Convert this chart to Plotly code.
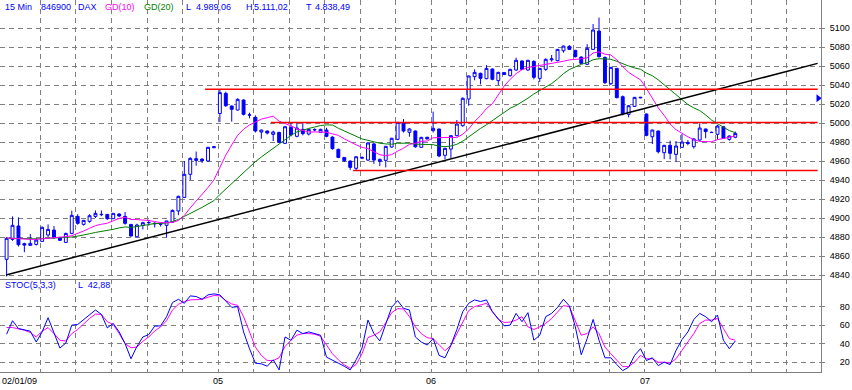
import plotly.graph_objects as go

# ---------------- data ----------------
bars = list(range(124))          # 15-minute bars, 36 per trading day
opens = [4856.5,4877.5,4891.6,4873,4871.2,4872.2,4875.4,4882.1,4887.3,4879.6,
         4874.3,4883.8,4901.7,4893.3,4896.5,4901.7,4903.5,4903.8,4899.3,4904.2,
         4901.7,4893.3,4880.3,4892.3,4895,4894.5,4894.3,4892.3,4895.8,4907.4,
         4921.7,4946,4960.5,4962,4960,4974,
         5010,5031.2,5017.9,5013.7,5024.2,5008.3,5006,4990.5,4991.6,4988,
         4990,4978.6,4995.4,4986,4993.3,4988.4,4992.8,4990.2,4992.6,4985.2,
         4972.3,4963.8,4960,4952.3,4963,4961,4978,4959.6,4960.7,4974.7,
         4982.8,5000,4990.2,4991.6,4974.4,4985,
         4992,4993.7,4966,4972.6,4986.7,4997.2,5025.3,5048.8,5052.3,5046.7,
         5056.8,5044.6,5053,5049.8,5055.8,5065.3,5055.8,5064.9,5047,5056.5,
         5066.5,5065.6,5076.1,5080.7,5076.5,5069.5,5061.8,5077.5,5096.8,5069.1,
         5041.4,5057.5,5027.7,5009.1,5017.5,5026.5,
         5009.5,4985.6,4991.6,4968.8,4976.5,4967,4974.4,4979.5,4975.1,4982.1,
         4993.7,4990.2,4988.1,4996.1,4982.8,4985]
highs = [4880,4901.7,4900.7,4874,4883.1,4879,4891,4893.3,4891.5,4880,
         4884.5,4907.7,4904,4898,4904,4908,4908,4904,4905,4905,
         4906.3,4893.5,4894,4896,4898,4895.5,4895,4897,4909,4923.5,
         4960,4964,4970,4963,4975,4975.5,
         5035,5033,5018.5,5026,5025,5010.9,5008,4993,4992,4992,
         4991,4997,5000,5000.7,5000.7,4994,4994.5,4994,4995,4986,
         4973,4964,4960.5,4965,4965,4980,4979,4962.5,4976,4984.5,
         5001,5004.2,4994.5,4992,4985.5,4985.5,
         5012,4994,4974,4987,5003.2,5027,5050,5056.5,5053,5061,
         5057.5,5054,5053.5,5057,5068.8,5066,5066.5,5066,5058,5068,
         5071.6,5078,5081.5,5082,5077,5070,5083,5104.2,5111.02,5070,
         5059,5058,5029,5019,5027.5,5027.5,
         5010,4993,4992,4977,4981.4,4981,4988.4,4982,4984,4999.6,
         4994,4991,4998,4997,4987,4991]
lows = [4838.49,4876,4870,4864,4871,4871,4875,4880,4878,4876,
        4874,4883,4893,4892,4895,4900,4902,4898,4899,4901,
        4893,4880.7,4880,4888,4892,4890,4891,4879.6,4895,4903,
        4921,4940,4955,4958,4959,4973.5,
        5001,5017,5001.4,5013,5008,5004.9,4990,4983.5,4988,4981,
        4979,4978,4986,4985,4987,4987,4991,4989.5,4985,4972,
        4963,4959,4950.5,4950.5,4962,4960,4957,4954.7,4953.3,4974,
        4982,4990,4985.6,4974,4974,4983,
        4990,4964,4961.7,4962.8,4986,4996,5018.2,5045,5040.7,5046,
        5045,5040,5050.5,5049,5055,5056,5055,5046,5043.2,5055,
        5064.6,5065,5074,5077,5069,5062.5,5061,5077,5069,5041,
        5040,5026,5008,5006,5017,5026,
        4986,4977.9,4968,4962,4961.7,4959.3,4974,4976.5,4973,4981,
        4984,4989.5,4982.8,4983.5,4981.4,4984]
closes = [4878.6,4892.3,4871.9,4871.5,4873.3,4876.8,4890.2,4888.0,4879.3,4876.5,
          4883.8,4902.8,4894.4,4897.5,4902.4,4904.9,4903.8,4899.3,4904.9,4902.1,
          4894.4,4881.0,4892.6,4895.1,4895.3,4894.0,4893.5,4896.9,4908.0,4922.8,
          4946.0,4962.8,4962.5,4960.3,4974.4,4975.0,
          5032,5018.2,5014.4,5024.9,5009.1,5008.6,4991.6,4992.6,4989.5,4990.5,
          4979.6,4996.1,4987.4,4994.7,4988.8,4993.3,4993.0,4993.3,4986.0,4973.0,
          4963.8,4960.3,4953.3,4964.5,4963.5,4979.0,4961.0,4961.7,4975.4,4983.9,
          5000.7,4991.6,4993.7,4975.0,4984.9,4983.2,
          4994.4,4965.3,4973.3,4986.7,4998.9,5026.0,5049.5,5053.3,5047.0,5057.5,
          5046.0,5053.3,5051.2,5056.5,5066.0,5056.5,5066.0,5048.1,5057.5,5067.0,
          5067.5,5077.5,5081.0,5077.5,5069.8,5062.8,5078.6,5097.9,5069.8,5042.5,
          5058.6,5026.7,5009.5,5018.2,5027.0,5027.0,
          4987.0,4992.6,4969.8,4976.5,4968.1,4975.8,4980.0,4978.5,4983.2,4994.7,
          4991.0,4990.0,4996.8,4983.9,4986.3,4989.06]

gd10 = [4879.0,4878.5,4878.0,4877.5,4877.5,4877.5,4878.0,4878.5,4879.0,4879.5,
        4880.4,4881.4,4883.7,4886.3,4889.2,4892.0,4893.4,4894.5,4897.1,4899.6,
        4900.7,4898.5,4898.3,4898.1,4897.4,4896.3,4895.2,4895.0,4895.3,4897.4,
        4902.6,4910.7,4917.7,4924.2,4932.1,4940.2,4954.1,4966.2,4976.9,4987.1,
        4993.4,4998.0,5000.9,5004.1,5005.6,5007.2,5001.9,4999.7,4997.0,4994.0,
        4992.0,4990.5,4990.6,4990.7,4990.3,4988.6,4987.0,4983.4,4980.0,4977.0,
        4974.4,4973.0,4969.8,4966.6,4965.6,4966.7,4970.4,4973.5,4977.5,4978.6,
        4980.7,4981.1,4984.5,4984.8,4984.6,4984.9,4984.7,4988.2,4993.7,5001.6,
        5007.8,5015.2,5020.4,5029.2,5039.0,5046.0,5052.0,5056.0,5058.5,5059.5,
        5060.5,5061.5,5062.5,5063.5,5065.0,5066.5,5066.8,5067.5,5068.7,5073.7,
        5074.9,5072.5,5071.6,5066.5,5059.4,5053.4,5049.2,5045.6,5036.4,5025.9,
        5015.9,5008.0,4999.0,4993.0,4989.0,4985.5,4982.5,4980.6,4980.5,4980.3,
        4982.5,4983.5,4985.0,4986.5]
gd20 = [4878.8,4878.5,4878.3,4878.0,4878.0,4878.0,4878.3,4878.5,4878.8,4879.0,
        4879.7,4880.0,4880.9,4881.9,4883.4,4884.8,4885.7,4886.5,4888.1,4889.6,
        4890.6,4890.0,4891.0,4892.2,4893.3,4894.2,4894.3,4894.8,4896.2,4898.5,
        4901.7,4904.6,4908.0,4911.2,4914.8,4918.3,4924.7,4930.6,4936.1,4942.3,
        4948.0,4954.4,4959.3,4964.2,4968.9,4973.7,4978.0,4983.0,4987.0,4990.6,
        4992.7,4994.3,4995.8,4997.4,4998.0,4997.9,4994.5,4991.6,4988.5,4985.5,
        4983.2,4981.8,4980.2,4978.7,4978.0,4977.7,4978.7,4978.5,4978.8,4977.8,
        4977.6,4977.1,4977.2,4975.7,4975.1,4975.8,4977.6,4980.9,4985.6,4990.1,
        4994.3,4998.2,5002.5,5007.0,5011.8,5015.5,5018.4,5022.1,5026.1,5030.6,
        5034.2,5038.4,5041.5,5046.4,5052.0,5056.3,5059.4,5061.8,5063.6,5066.6,
        5067.7,5067.0,5067.1,5065.0,5062.2,5060.0,5058.0,5056.6,5052.6,5049.8,
        5045.4,5040.3,5035.3,5029.8,5024.2,5019.5,5015.9,5013.1,5008.5,5003.1,
        4999.2,4995.8,4992.0,4989.8]

stoch_k = [50.3,65,56.5,54.7,53.6,41.8,52.8,68.3,52.8,35.2,40.7,60.2,60.9,66.4,71.9,
           76.7,71.9,57.2,62,52.8,40,23.5,37,47.3,49.9,59.1,59.4,69.4,84.8,88.4,
           84,92.1,91.4,88.4,93.2,94.3,93.2,85.9,79.6,80.4,52.8,34.5,18.7,18,15.4,
           22.4,11.4,47.3,43.7,54.7,51,52.8,51,49.2,25.3,21.6,18.7,15.4,11.4,22.4,
           35.2,65.7,51,43,62,79.6,87,78.5,76.7,47.3,41.8,38.5,45.5,27.2,24.6,
           38.2,55.4,74.9,84,87.7,85.9,87.7,74.9,67.5,59.4,60.2,73,63.9,73.8,43.7,
           49.2,69.4,73,79.6,88.4,81.1,58.3,27.9,45.5,66.4,43.7,24.6,24.6,17.2,10.6,
           14.3,27.2,34.5,21.6,24.6,16.1,19.8,17.2,32.6,44.4,52.8,66.4,73,69.4,63.9,
           71.2,43.7,34.5,42.88]
stoch_d = [57.6,57.6,56.1,54.7,52.1,47.3,53.6,57.6,51,43.7,42.9,51,55.4,62,67.5,
           72.3,71.9,63.9,60.9,51,40,35.6,36.3,42.6,47.3,53.9,58.3,65,76.7,82.9,
           85.9,87.7,88.4,88.4,90.6,92.5,92.1,87,83.3,81.8,69.4,52.8,36.3,27.2,21.6,
           21.6,24.6,37,43.7,49.2,51,51,50.3,48.1,38.2,29,22.4,16.9,13.2,17.2,
           29,46.6,49.2,52.8,62.8,73.8,78.2,77.8,69.4,58.3,51,46.5,45.5,38.9,32.3,
           38.2,50.3,63.9,76,80.4,82.2,84,74.9,66.4,63.1,63.5,65.7,69.4,58.3,55.4,
           58.3,62,67.5,74.9,81.5,80.4,65.7,49.2,51,58.3,51,36.3,29,21.6,15,
           15,19.8,27.2,23.5,23.5,19.8,19.8,18.7,23.5,32.6,41.8,51,62,65.7,65.7,
           67.5,56.5,45.5,43.7]

# drawn lines (bar position, price)
trend_x = [-0.1, 136.9]
trend_y = [4840.0, 5062.8]
level_values = [5035.5, 5000.5, 4950.0]
level_start = [33.5, 44.6, 58.5]
level_end = 136.9
flag_x, flag_y = 137.0, 5026.0

main_ticks = list(range(4840, 5101, 20))
stoch_ticks = [20, 40, 60, 80]
grid_x = [5.7 + 6 * k for k in range(23)]
day_labels = ["05", "06", "07"]
day_pos = [35.7, 71.7, 107.7]
first_label = "02/01/09"

BLUE = "#0000FF"
MAGENTA = "#FF00FF"
GREEN = "#007F00"
RED = "#FF0000"
GRID = "#808080"
FONT = "Liberation Sans"

fig = go.Figure()
fig.add_trace(go.Candlestick(
    x=bars, open=opens, high=highs, low=lows, close=closes,
    increasing=dict(line=dict(color=BLUE, width=1), fillcolor="#FFFFFF"),
    decreasing=dict(line=dict(color=BLUE, width=1), fillcolor=BLUE),
    whiskerwidth=0, xaxis="x", yaxis="y", showlegend=False))
fig.add_trace(go.Scatter(x=bars, y=gd20, mode="lines", line=dict(color=GREEN, width=1),
                         xaxis="x", yaxis="y", showlegend=False))
fig.add_trace(go.Scatter(x=bars, y=gd10, mode="lines", line=dict(color=MAGENTA, width=1),
                         xaxis="x", yaxis="y", showlegend=False))
fig.add_trace(go.Scatter(x=trend_x, y=trend_y, mode="lines", line=dict(color="#000000", width=1.5),
                         xaxis="x", yaxis="y", showlegend=False))
for v, s in zip(level_values, level_start):
    fig.add_trace(go.Scatter(x=[s, level_end], y=[v, v], mode="lines",
                             line=dict(color=RED, width=1.5), xaxis="x", yaxis="y",
                             showlegend=False))
fig.add_trace(go.Scatter(x=[flag_x], y=[flag_y], mode="markers",
                         marker=dict(symbol="triangle-right", size=7, color=BLUE),
                         cliponaxis=False, xaxis="x", yaxis="y", showlegend=False))
fig.add_trace(go.Scatter(x=bars, y=stoch_d, mode="lines", line=dict(color=MAGENTA, width=1),
                         xaxis="x2", yaxis="y2", showlegend=False))
fig.add_trace(go.Scatter(x=bars, y=stoch_k, mode="lines", line=dict(color=BLUE, width=1),
                         xaxis="x2", yaxis="y2", showlegend=False))

xr = [-1.114, 137.47]
common_x = dict(range=xr, tickvals=grid_x, showticklabels=False, ticks="",
                showgrid=True, gridcolor=GRID, griddash="5px,4px", gridwidth=1,
                zeroline=False, showline=True, linecolor=GRID, linewidth=1)
fig.update_layout(
    width=852, height=390, autosize=False,
    margin=dict(l=0, r=31, t=0, b=18),
    paper_bgcolor="#FFFFFF", plot_bgcolor="#FFFFFF",
    showlegend=False, hovermode=False,
    xaxis=dict(anchor="y", domain=[0, 1], rangeslider=dict(visible=False), **common_x),
    xaxis2=dict(anchor="y2", domain=[0, 1], matches="x", **common_x),
    yaxis=dict(domain=[0.25, 1], range=[4835.8, 5129.5], side="right", anchor="x",
               tickvals=main_ticks, ticks="outside", ticklen=3, tickcolor=GRID,
               showgrid=True, gridcolor=GRID, griddash="5px,4px", gridwidth=1,
               zeroline=False, showline=True, linecolor=GRID, linewidth=1,
               tickfont=dict(family=FONT, size=9, color="#000000"), ticklabelstandoff=3),
    yaxis2=dict(domain=[0, 0.25], range=[9.1, 110.5], side="right", anchor="x2",
                tickvals=stoch_ticks, ticks="outside", ticklen=3, tickcolor=GRID,
                showgrid=True, gridcolor=GRID, griddash="5px,4px", gridwidth=1,
                zeroline=False, showline=True, linecolor=GRID, linewidth=1,
                tickfont=dict(family=FONT, size=9, color="#000000"), ticklabelstandoff=13),
)

ann = []
header = [("15 Min", 2.7, BLUE), ("846900", 39, BLUE), ("DAX", 76, BLUE),
          ("GD(10)", 103, MAGENTA), ("GD(20)", 142, GREEN),
          ("L", 184, BLUE), ("4.989,06", 194, BLUE),
          ("H", 244, BLUE), ("5.111,02", 252, BLUE),
          ("T", 304, BLUE), ("4.838,49", 313, BLUE)]
for t, px, c in header:
    ann.append(dict(text=t, x=px / 821, y=365 / 372, xref="paper", yref="paper",
                    xanchor="left", yanchor="middle", showarrow=False,
                    font=dict(family=FONT, size=9, color=c)))
ann.append(dict(text="STOC(5,3,3)", x=3.3 / 821, y=(372 - 285) / 372, xref="paper", yref="paper",
                xanchor="left", yanchor="middle", showarrow=False,
                font=dict(family=FONT, size=9, color=BLUE)))
ann.append(dict(text="L  42,88", x=76 / 821, y=(372 - 285) / 372, xref="paper", yref="paper",
                xanchor="left", yanchor="middle", showarrow=False,
                font=dict(family=FONT, size=9, color=BLUE)))
ann.append(dict(text=first_label, x=0, y=(372 - 381) / 372, xref="paper", yref="paper",
                xanchor="left", yanchor="middle", showarrow=False,
                font=dict(family=FONT, size=9, color="#000000")))
for t, p in zip(day_labels, day_pos):
    ann.append(dict(text=t, x=p, y=(372 - 381) / 372, xref="x2", yref="paper",
                    xanchor="center", yanchor="middle", showarrow=False,
                    font=dict(family=FONT, size=9, color="#000000")))
fig.update_layout(annotations=ann)

fig.write_html("out.html", config={"displayModeBar": False},
               post_script="document.body.style.margin='0';document.body.style.overflow='hidden';")
